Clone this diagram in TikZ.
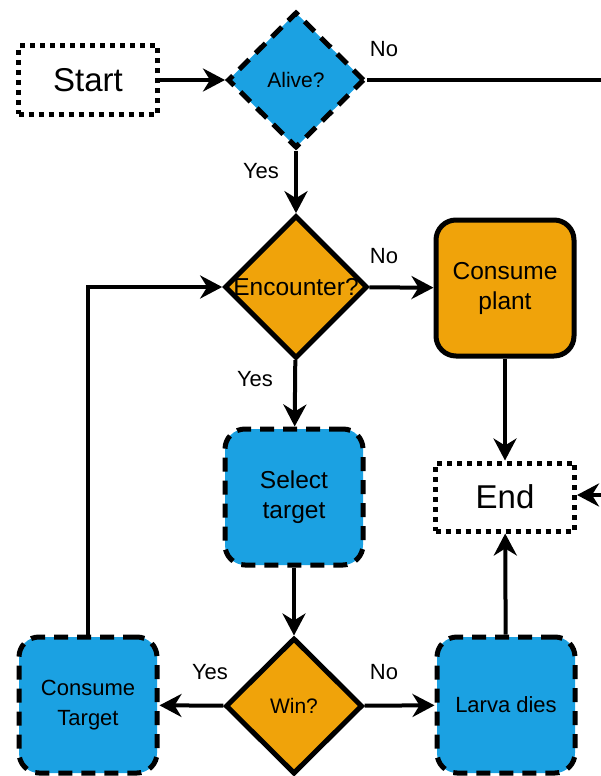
\documentclass[tikz,border=0pt]{standalone}
\usepackage{fontspec}
\setmainfont{Liberation Sans}
\usetikzlibrary{shapes.geometric, arrows.meta}

\definecolor{larvablue}{HTML}{1BA1E2}
\definecolor{larvaorange}{HTML}{F0A30A}

\tikzset{
	terminal/.style = {draw, line width = 5pt, dash pattern = on 5pt off 5pt, minimum width = 139pt, minimum height = 68pt, font = \fontsize{33}{36}\selectfont},
	decision/.style = {diamond, draw, line width = 5pt, minimum width = 137pt, minimum height = 136pt, inner sep = 0pt, font = \fontsize{21}{25}\selectfont},
	process/.style = {rectangle, rounded corners = 20pt, draw, line width = 5pt, minimum width = 138pt, minimum height = 136pt, align = center, font = \fontsize{22}{30}\selectfont},
	bluebox/.style = {fill = larvablue, dash pattern = on 14pt off 9pt},
	orangebox/.style = {fill = larvaorange},
	bigtext/.style = {font = \fontsize{24.5}{30}\selectfont},
	flow/.style = {-{Stealth[length = 22pt, width = 23pt, inset = 7pt]}, line width = 4pt},
	answer/.style = {font = \fontsize{22}{25}\selectfont}
}

\begin{document}
\begin{tikzpicture}[x = 1pt, y = -1pt]
	%	page
	\useasboundingbox (0, 0) rectangle (600, 776);
	
	%	nodes
	\node[terminal] (start) at (88, 80) {Start};
	\node[decision, bluebox] (alive) at (296, 80) {Alive?};
	\node[decision, orangebox, bigtext] (encounter) at (296, 287) {Encounter?};
	\node[process, orangebox, bigtext] (plant) at (505, 288) {Consume\\plant};
	\node[terminal] (end) at (505, 497) {End};
	\node[process, bluebox, bigtext] (select) at (294, 497) {Select\\target};
	\node[decision, orangebox] (win) at (294, 706) {Win?};
	\node[process, bluebox] (target) at (88, 705) {Consume\\Target};
	\node[process, bluebox] (dies) at (506, 705) {Larva dies};
	
	%	free ends on the right
	\coordinate (exit) at (610, 80);
	\coordinate (enter) at (610, 495);
	
	%	connectors
	\draw[flow] (start) -- (alive);
	\draw[line width = 4pt] (alive.east) -- (exit);
	\draw[flow] (alive) -- (encounter);
	\draw[flow] (encounter) -- (plant);
	\draw[flow] (encounter) -- (select);
	\draw[flow] (plant) -- (end);
	\draw[flow] (enter) -- (end.east |- enter);
	\draw[flow] (select) -- (win);
	\draw[flow] (win) -- (target);
	\draw[flow] (win) -- (dies);
	\draw[flow] (dies) -- (end);
	\draw[flow] (target.north) |- (encounter.west);
	
	%	answers
	\node[answer] (alive no) at (384, 49) {No};
	\node[answer] (alive yes) at (261, 171) {Yes};
	\node[answer] (encounter no) at (384, 256) {No};
	\node[answer] (encounter yes) at (255, 379) {Yes};
	\node[answer] (win yes) at (210, 672) {Yes};
	\node[answer] (win no) at (384, 672) {No};
\end{tikzpicture}
\end{document}
